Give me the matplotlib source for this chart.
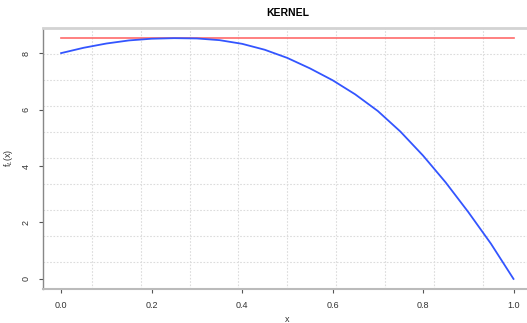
import numpy as np
from matplotlib import pyplot as plt

plt.rcParams['font.family'] = ['Liberation Sans', 'DejaVu Sans']

# values
x = [0.0, 0.05, 0.1, 0.15, 0.2, 0.25, 0.3, 0.35, 0.4, 0.45, 0.5,
     0.55, 0.6, 0.65, 0.7, 0.75, 0.8, 0.85, 0.9, 0.95, 1.0]
fx = [8.00, 8.19, 8.34, 8.45, 8.51, 8.53, 8.52, 8.46, 8.33, 8.12, 7.83,
      7.46, 7.04, 6.54, 5.95, 5.22, 4.37, 3.42, 2.37, 1.25, 0.00]
ref_x = [0.0, 1.0]
ref_y = [8.55, 8.55]
xticks = [0.0, 0.2, 0.4, 0.6, 0.8, 1.0]
yticks = [0, 2, 4, 6, 8]

fig = plt.figure(figsize=(5.27, 3.23), dpi=100)
ax = fig.add_axes([43/527, 0.1068, (531.6-43)/527, 0.9133-0.1068])

xlim = (-0.04, 1.04)
ylim = (-0.34, 8.89)
ax.set_xlim(xlim)
ax.set_ylim(ylim)

# R style grid (nx = ny = 10)
for gx in np.linspace(xlim[0], xlim[1], 11)[1:-1]:
    ax.axvline(gx, color='#dcdcdc', lw=0.8, ls=(0, (1.5, 1.5)), zorder=0)
for gy in np.linspace(ylim[0], ylim[1], 11)[1:-1]:
    ax.axhline(gy, color='#dcdcdc', lw=0.8, ls=(0, (1.5, 1.5)), zorder=0)

ax.plot(ref_x, ref_y, color='#ff6b6b', lw=1.2)
ax.plot(x, fx, color='#3355ff', lw=1.3)

ax.set_xticks(xticks)
ax.set_xticklabels(['0.0', '0.2', '0.4', '0.6', '0.8', '1.0'])
ax.set_yticks(yticks)
ax.set_yticklabels([str(v) for v in yticks], rotation=90, va='center')
ax.tick_params(labelsize=6.5, colors='#555555', labelcolor='#333333',
               length=3, width=0.8)
ax.tick_params(axis='x', pad=6)
ax.tick_params(axis='y', pad=6)

ax.spines['left'].set_color('#888888')
ax.spines['left'].set_linewidth(1.0)
ax.spines['bottom'].set_color('#bbbbbb')
ax.spines['bottom'].set_linewidth(1.5)
ax.spines['top'].set_color('#d3d3d3')
ax.spines['top'].set_linewidth(2.0)
ax.spines['right'].set_visible(False)

ax.set_title('KERNEL', fontsize=7.5, fontweight='bold', pad=9)
ax.set_xlabel('x', fontsize=6.5, color='#333333')
ax.set_ylabel('f$_L$(x)', fontsize=6.5, color='#333333')
ax.xaxis.set_label_coords((287-43)/488.6, -0.1)
ax.yaxis.set_label_coords(-0.057, 0.5)

fig.savefig('out.png', dpi=100)
